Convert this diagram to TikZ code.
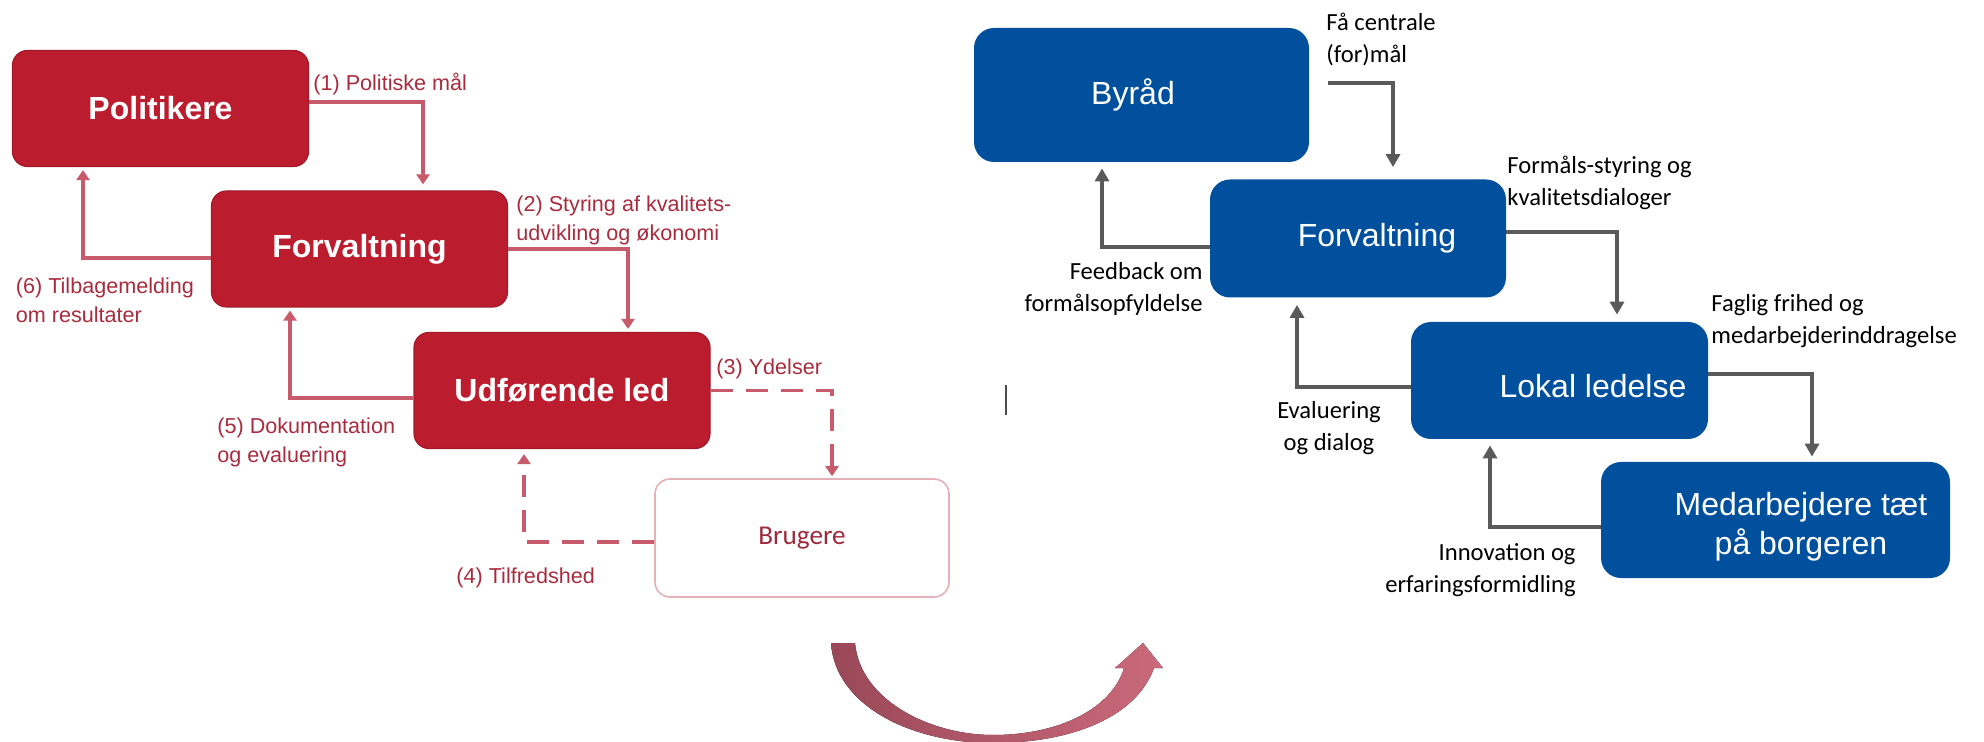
\documentclass[tikz,border=0pt]{standalone}
\usepackage{fontspec}
\setmainfont{Liberation Sans}
\newfontfamily\carlito{Carlito}
\usetikzlibrary{arrows.meta}
\definecolor{polred}{HTML}{BC1D2E}
\definecolor{polredline}{HTML}{A3192A}
\definecolor{redarrow}{HTML}{C75A6B}
\definecolor{redtext}{HTML}{A92B3D}
\definecolor{brugline}{HTML}{E6B0B9}
\definecolor{brugtext}{HTML}{9E2A3C}
\definecolor{byblue}{HTML}{00509E}
\definecolor{arrowgray}{HTML}{5A5A5A}
\definecolor{bendlo}{HTML}{9A4859}
\definecolor{bendhi}{HTML}{CA6A7B}
\tikzset{
	redbox/.style={draw=polredline, line width=0.6pt, fill=polred, rounded corners=7.5pt, inner sep=0pt,
		minimum width=148pt, minimum height=58pt, text=white, font=\fontsize{16}{19}\selectfont\bfseries},
	userbox/.style={draw=brugline, line width=0.8pt, fill=white, rounded corners=7.5pt, inner sep=0pt,
		minimum width=147pt, minimum height=59pt, text=brugtext, font=\carlito\fontsize{13.6}{16}\selectfont},
	bluebox/.style={fill=byblue, rounded corners=10pt, inner sep=0pt, minimum width=148pt, minimum height=59pt},
	boxtxt/.style={text=white, align=center, inner sep=0pt, font=\fontsize{16}{19.5}\selectfont},
	redlbl/.style={text=redtext, align=left, inner sep=0pt, font=\fontsize{10.8}{14.5}\selectfont},
	lbl/.style={text=black, align=left, inner sep=0pt, font=\carlito\fontsize{12.3}{16}\selectfont},
	redline/.style={draw=redarrow, line width=1.7pt, -{Triangle[length=5pt,width=6.5pt]}},
	reddash/.style={redline, dash pattern=on 11pt off 6.5pt},
	grayline/.style={draw=arrowgray, line width=1.9pt, -{Triangle[length=6.5pt,width=7pt]}}
}
\begin{document}
\begin{tikzpicture}[x=1pt, y=-1pt]
	\useasboundingbox (0,0) rectangle (992,371);
	% old model
	\node[redbox] (pol) at (80.25,54.25) {Politikere};
	\node[redbox] (forvR) at (179.75,124.5) {Forvaltning};
	\node[redbox] (udf) at (281,195.25) {Udførende led};
	\node[userbox] (brug) at (401,269) {Brugere};
	\draw[redline] ([yshift=3.25pt]pol.east) -| ([xshift=31.75pt,yshift=3pt]forvR.north);
	\draw[redline] (forvR.east) -| ([xshift=33pt,yshift=1.5pt]udf.north);
	\draw[redline] ([yshift=-4.5pt]forvR.west) -| ([xshift=-38.75pt,yshift=-1.5pt]pol.south);
	\draw[redline] ([yshift=-3.75pt]udf.west) -| ([xshift=-34.75pt,yshift=-1.5pt]forvR.south);
	\draw[reddash] (udf.east) -| ([xshift=15pt,yshift=1pt]brug.north);
	\draw[reddash] ([yshift=-2pt]brug.west) -| ([xshift=-19pt,yshift=-2.5pt]udf.south);
	\node[redlbl, anchor=west] (l1) at (156.5,42) {(1) Politiske mål};
	\node[redlbl, anchor=west] (l2) at (258,110.25) {(2) Styring af kvalitets-\\udvikling og økonomi};
	\node[redlbl, anchor=west] (l3) at (358,184.5) {(3) Ydelser};
	\node[redlbl, anchor=west] (l4) at (228,289) {(4) Tilfredshed};
	\node[redlbl, anchor=west] (l5) at (108.5,221) {(5) Dokumentation\\og evaluering};
	\node[redlbl, anchor=west] (l6) at (7.75,150.25) {(6) Tilbagemelding\\om resultater};
	% bend arrow
	\fill[left color=bendlo, right color=bendhi] (415.5,321.5) -- (427.5,321.5)
		.. controls (430,350) and (465,367.5) .. (496.5,367.5)
		.. controls (530,367.5) and (556,354) .. (562,334) -- (557.5,334) -- (571.5,321.5) -- (581.5,334) -- (577,334)
		.. controls (568,359) and (535,371.5) .. (496.5,371.5)
		.. controls (455,371.5) and (417.5,352.5) .. (415.5,321.5) -- cycle;
	\draw[line width=0.6pt, black!70] (503,192.5) -- (503,207.5);
	% new model
	\node[bluebox, minimum width=167.5pt, minimum height=67pt] (byrad) at (570.75,47.5) {};
	\node[bluebox] (forvB) at (679,119.25) {};
	\node[bluebox, minimum width=148.5pt, minimum height=58.5pt] (lokal) at (779.75,190.25) {};
	\node[bluebox, minimum width=174.5pt, minimum height=58pt] (medarb) at (887.75,260) {};
	\node[boxtxt] (byrad-t) at ([xshift=-4.25pt]byrad.center) {Byråd};
	\node[boxtxt] (forvB-t) at ([xshift=9.5pt]forvB.center) {Forvaltning};
	\node[boxtxt] (lokal-t) at ([xshift=16.75pt,yshift=-2.75pt]lokal.center) {Lokal ledelse};
	\node[boxtxt] (medarb-t) at ([xshift=12.75pt,yshift=-3.5pt]medarb.center) {Medarbejdere tæt\\på borgeren};
	\draw[grayline] ([xshift=9.5pt,yshift=6pt]byrad.east) -| ([xshift=17.5pt,yshift=6pt]forvB.north);
	\draw[grayline] ([yshift=3.25pt]forvB.east) -| ([xshift=28.75pt,yshift=3.5pt]lokal.north);
	\draw[grayline] ([yshift=3.25pt]lokal.east) -| ([xshift=18.25pt,yshift=2.5pt]medarb.north);
	\draw[grayline] ([yshift=-4.25pt]forvB.west) -| ([xshift=-19.75pt,yshift=-3pt]byrad.south);
	\draw[grayline] ([yshift=-3.25pt]lokal.west) -| ([xshift=-30.5pt,yshift=-3.5pt]forvB.south);
	\draw[grayline] ([yshift=-3.5pt]medarb.west) -| ([xshift=-34.75pt,yshift=-3pt]lokal.south);
	\node[lbl, anchor=west] (la) at (663,19.5) {Få centrale\\(for)mål};
	\node[lbl, anchor=west] (lb) at (753.5,91.5) {Formåls-styring og\\kvalitetsdialoger};
	\node[lbl, anchor=west] (lc) at (855.5,160.5) {Faglig frihed og\\medarbejderinddragelse};
	\node[lbl, anchor=east, align=right] (ld) at (601.5,144.5) {Feedback om\\formålsopfyldelse};
	\node[lbl, align=center] (le) at (664.5,214) {Evaluering\\og dialog};
	\node[lbl, anchor=east, align=right] (lf) at (788,285) {Innovation og\\erfaringsformidling};
\end{tikzpicture}
\end{document}
